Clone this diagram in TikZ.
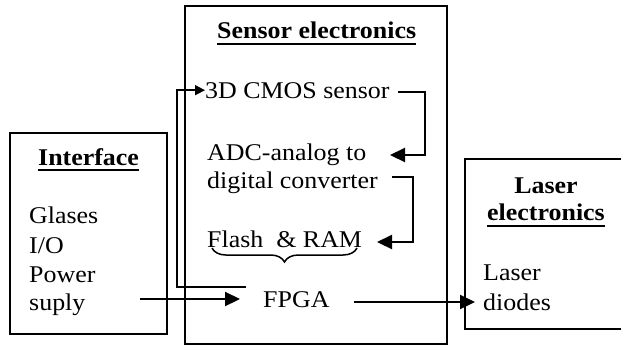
\documentclass[tikz,border=0pt]{standalone}
\usepackage{fontspec}
\setmainfont{Liberation Serif}
\usetikzlibrary{arrows.meta,decorations.pathreplacing}
\begin{document}
\begin{tikzpicture}[x=1pt,y=-1pt,
  txt/.style={inner sep=0pt,anchor=base west,font=\fontsize{24}{29}\selectfont,xscale=1.08},
  ttl/.style={txt,font=\fontsize{24}{29}\selectfont\bfseries},
  box/.style={draw,line width=2pt,inner sep=0pt,anchor=north west},
  conn/.style={line width=2.2pt,-{Triangle[length=15pt,width=14pt]}},
  fb/.style={line width=1.5pt,-{Triangle[length=10pt,width=10pt]}},
  uline/.style={line width=1.8pt},
  brc/.style={decorate,decoration={brace,mirror,amplitude=14pt},line width=1.5pt}]
\useasboundingbox (0,0) rectangle (621,346);
% boxes
\node[box,line width=1.6pt,minimum width=262pt,minimum height=338pt] (sensorbox) at (184,5) {};
\node[box,minimum width=157pt,minimum height=201pt] (ifbox) at (9,132) {};
\node[box,minimum width=157pt,minimum height=170pt] (laserbox) at (464,158) {};
% titles
\node[ttl] (sensort) at (217,38) {Sensor electronics};
\draw[uline] ([yshift=-6pt]sensort.base west) -- ([yshift=-6pt]sensort.base east);
\node[ttl] (ift) at (38,165) {Interface};
\draw[uline] ([yshift=-5pt]ift.base west) -- ([yshift=-5pt]ift.base east);
\node[ttl,anchor=base] (lt1) at (546,193) {Laser};
\node[ttl,anchor=base] (lt2) at (546,220) {electronics};
\draw[uline] ([yshift=-6pt]lt2.base west) -- ([yshift=-6pt]lt2.base east);
% interface texts
\node[txt] (g1) at (29,223) {Glases};
\node[txt] (io) at (29,253) {I/O};
\node[txt] (pw) at (29,282) {Power};
\node[txt] (sp) at (29,310) {suply};
% laser texts
\node[txt] (ld1) at (483,280) {Laser};
\node[txt] (ld2) at (483,310) {diodes};
% sensor texts
\node[txt] (cmos) at (205,98) {3D CMOS sensor};
\node[txt] (adc1) at (207,160) {ADC-analog to};
\node[txt] (adc2) at (207,188) {digital converter};
\node[txt] (flash) at (207,247) {Flash~~\& RAM};
\node[txt] (fpga) at (263,307) {FPGA};
% brace
\draw[brc] (212,248) -- (357,248);
% connectors
\coordinate (a1) at (398,92);
\coordinate (a2) at (390,155);
\draw[conn] (a1) -- ++(27,0) |- (a2);
\coordinate (b1) at (392,177);
\coordinate (b2) at (377,242);
\draw[conn] (b1) -- ++(21,0) |- (b2);
\coordinate (f1) at (246,287);
\draw[fb] (f1) -- ++(-69,0) |- (cmos.west);
\coordinate (p1) at (140,299);
\coordinate (p2) at (240,299);
\draw[conn] (p1) -- (p2);
\coordinate (l1) at (354,302);
\coordinate (l2) at (475,302);
\draw[conn] (l1) -- (l2);
\end{tikzpicture}
\end{document}
